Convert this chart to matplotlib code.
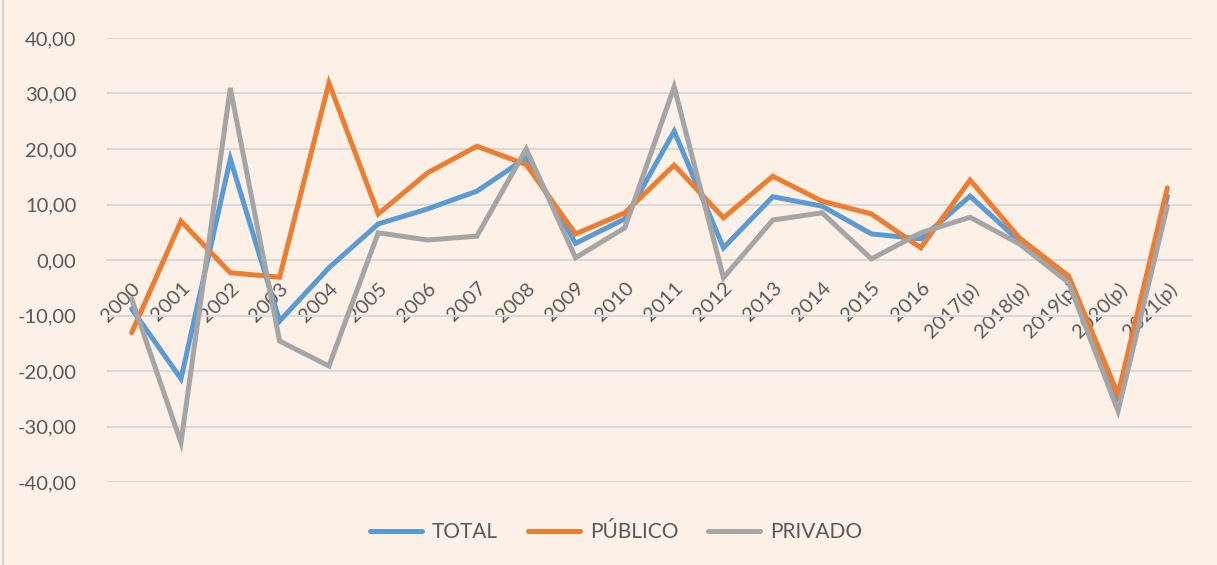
import matplotlib
matplotlib.use("Agg")
import matplotlib.pyplot as plt
import numpy as np

years = ["2000", "2001", "2002", "2003", "2004", "2005", "2006", "2007", "2008", "2009",
         "2010", "2011", "2012", "2013", "2014", "2015", "2016", "2017(p)", "2018(p)",
         "2019(p)", "2020(p)", "2021(p)"]
total = [-8.8, -21.4, 18.2, -11.0, -1.4, 6.5, 9.2, 12.4, 18.4, 3.0,
         7.4, 23.2, 2.2, 11.4, 9.7, 4.7, 3.8, 11.5, 3.4, -3.4, -25.4, 11.5]
publico = [-13.1, 7.0, -2.3, -3.1, 31.9, 8.3, 15.7, 20.5, 17.2, 4.7,
           8.5, 17.1, 7.6, 15.1, 10.6, 8.3, 2.2, 14.4, 4.0, -2.9, -24.2, 13.0]
privado = [-7.0, -32.9, 31.0, -14.6, -19.1, 4.9, 3.6, 4.3, 20.0, 0.4,
           5.8, 31.2, -3.2, 7.2, 8.5, 0.2, 4.9, 7.7, 2.9, -4.1, -27.2, 9.7]
yticks = [-40, -30, -20, -10, 0, 10, 20, 30, 40]

bg = "#FDF0E7"
txt = "#595959"
plt.rcParams['font.family'] = ['Lato', 'DejaVu Sans']

fig = plt.figure(figsize=(12.17, 5.65), dpi=100, facecolor=bg)
ax = fig.add_axes([107/1217, 1-482/565, (1192-107)/1217, (482-38)/565])
ax.set_facecolor(bg)

x = np.arange(len(years))
lw = 3.6
ax.plot(x, total, color="#5B9BD5", lw=lw, label="TOTAL", solid_capstyle='round', solid_joinstyle='miter', zorder=3)
ax.plot(x, publico, color="#ED7D31", lw=lw, label="PÚBLICO", solid_capstyle='round', solid_joinstyle='miter', zorder=3)
ax.plot(x, privado, color="#A5A5A5", lw=lw, label="PRIVADO", solid_capstyle='round', solid_joinstyle='miter', zorder=3)

ax.set_xlim(-0.5, len(years) - 0.5)
ax.set_ylim(-40, 40)
ax.set_yticks(yticks)
ax.set_yticklabels([f"{v:.2f}".replace(".", ",") for v in yticks], color=txt, fontsize=14.5)
ax.yaxis.grid(True, color="#D9D9D9", lw=1.5)
ax.set_axisbelow(True)
ax.tick_params(axis='y', length=0, pad=22)

for s in ["top", "right", "left"]:
    ax.spines[s].set_visible(False)
ax.spines["bottom"].set_position(("data", 0))
ax.spines["bottom"].set_color("#D9D9D9")
ax.spines["bottom"].set_linewidth(1.5)

ax.set_xticks(x)
ax.set_xticklabels(years, rotation=45, ha="right", va="top", rotation_mode="anchor",
                   color=txt, fontsize=14.5)
ax.tick_params(axis='x', length=0, pad=14)

leg = fig.legend(loc="center", bbox_to_anchor=(616/1217, 1-532/565), ncol=3, frameon=False,
                 fontsize=15, handlelength=2.5, columnspacing=1.4, handletextpad=0.5)
for t in leg.get_texts():
    t.set_color(txt)

fig.add_artist(plt.Line2D([3/1217, 3/1217], [0, 1], color="#D0CCC8", lw=1.2))

fig.savefig("out.png", dpi=100, facecolor=bg)
